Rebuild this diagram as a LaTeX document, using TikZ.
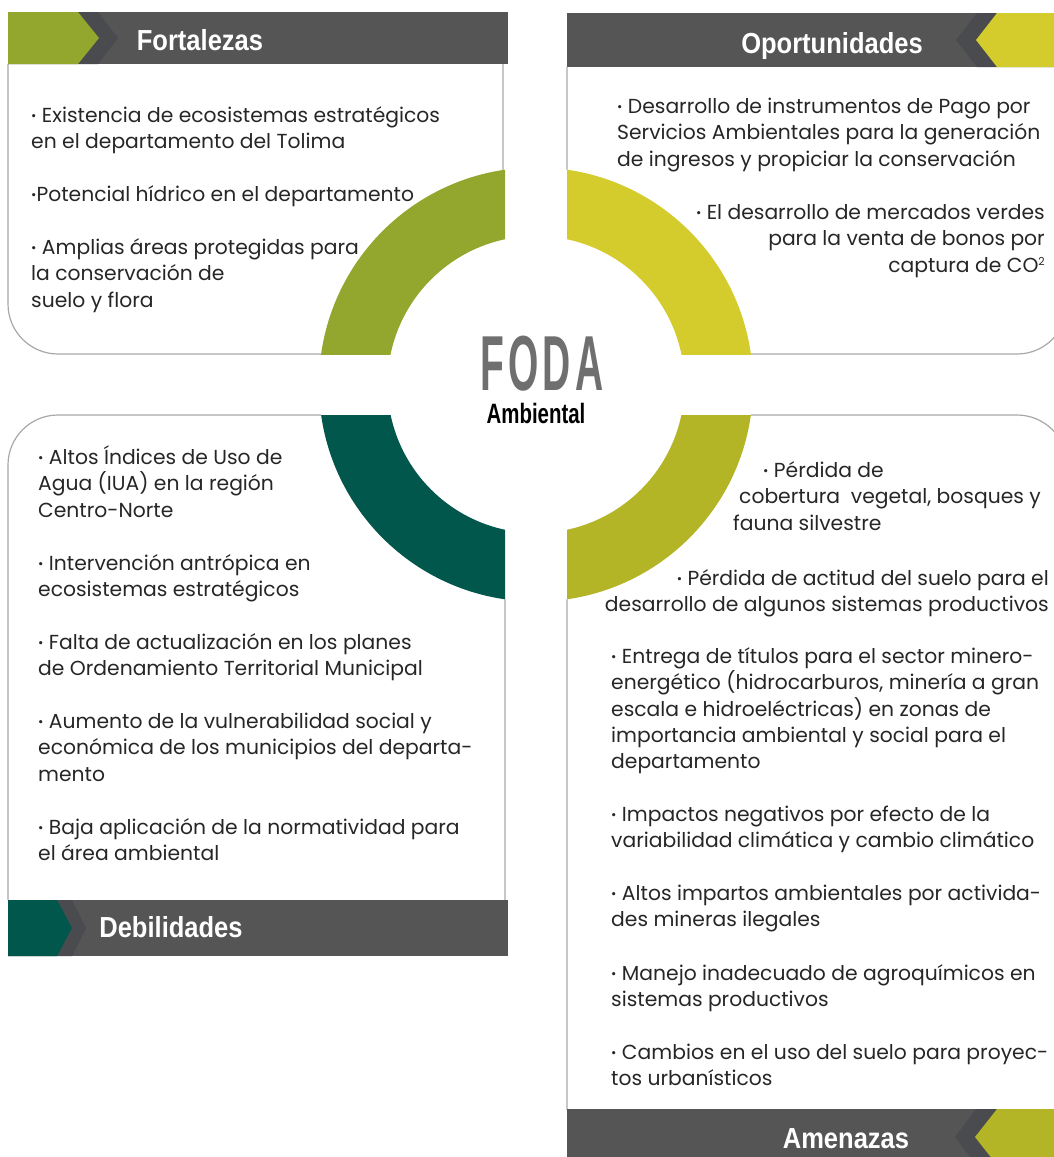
\documentclass[tikz,border=0pt]{standalone}
\usepackage{fontspec}
\setmainfont{Poppins}
\newfontfamily\hdfont[FakeStretch=0.88]{Liberation Sans}
\newfontfamily\fodafont[FakeStretch=0.5]{Liberation Sans}
\newfontfamily\ambfont[FakeStretch=0.73]{Liberation Sans}
\definecolor{hdgray}{HTML}{555555}
\definecolor{chevdark}{HTML}{4A4B4E}
\definecolor{cF}{HTML}{93A72E}
\definecolor{cO}{HTML}{D4CB2D}
\definecolor{cD}{HTML}{02574D}
\definecolor{cA}{HTML}{B3B526}
\definecolor{boxgray}{HTML}{A8A8A8}
\definecolor{txt}{HTML}{262626}
\definecolor{fodagray}{HTML}{6F6F6F}
\newcommand{\mystrut}{\rule{0pt}{20pt}}
\newcommand{\bul}{{\fontsize{13}{13}\selectfont\raisebox{2pt}{•}}}
\begin{document}
\begin{tikzpicture}[x=1pt,y=-1pt,
  boxline/.style={draw=boxgray,line width=1.2pt},
  body/.style={anchor=north west,align=left,inner sep=0pt,text=txt,font=\fontsize{20.3}{26.4}\selectfont},
  bodyr/.style={body,anchor=north east,align=right},
  title/.style={anchor=base,inner sep=0pt,text=white,font=\hdfont\bfseries\fontsize{29}{32}\selectfont}]
\useasboundingbox (0,0) rectangle (1054,1157);
\coordinate (ctr) at (536,384.5);
% box outlines
\draw[boxline] (503,64) -- (503,354) -- (58,354) .. controls (30.4,354) and (8,331.6) .. (8,304) -- (8,64);
\draw[boxline] (567,67) -- (567,354) -- (1017,354) .. controls (1044.6,354) and (1067,331.6) .. (1067,304) -- (1067,67);
\draw[boxline] (505,900) -- (505,415) -- (58,415) .. controls (30.4,415) and (8,437.4) .. (8,465) -- (8,900);
\draw[boxline] (567,1110) -- (567,415) -- (1017,415) .. controls (1044.6,415) and (1067,437.4) .. (1067,465) -- (1067,1110);
% header bars
\fill[hdgray] (8,12) rectangle (508,64);
\fill[chevdark] (8,12) -- (98,12) -- (118,38) -- (98,64) -- (8,64) -- cycle;
\fill[cF] (8,12) -- (78,12) -- (99,38) -- (78,64) -- (8,64) -- cycle;
\fill[hdgray] (567,13) rectangle (1054,67);
\fill[chevdark] (1054,13) -- (977,13) -- (956,40) -- (977,67) -- (1054,67) -- cycle;
\fill[cO] (1054,13) -- (997,13) -- (976,40) -- (997,67) -- (1054,67) -- cycle;
\fill[hdgray] (8,900) rectangle (508,956);
\fill[chevdark] (8,900) -- (72,900) -- (86,928) -- (72,956) -- (8,956) -- cycle;
\fill[cD] (8,900) -- (57,900) -- (72,928) -- (57,956) -- (8,956) -- cycle;
\fill[hdgray] (567,1109) rectangle (1054,1165);
\fill[chevdark] (1054,1109) -- (976,1109) -- (955,1137) -- (976,1165) -- (1054,1165) -- cycle;
\fill[cA] (1054,1109) -- (997,1109) -- (975,1137) -- (997,1165) -- (1054,1165) -- cycle;
% ring
\fill[white] (ctr) circle (217pt);
\begin{scope}
\clip (0,0) rectangle (505,354);
\fill[cF,even odd rule] (ctr) circle (217pt) (ctr) circle (148.5pt);
\end{scope}
\begin{scope}
\clip (567,0) rectangle (1054,354);
\fill[cO,even odd rule] (ctr) circle (217pt) (ctr) circle (148.5pt);
\end{scope}
\begin{scope}
\clip (0,415) rectangle (505,900);
\fill[cD,even odd rule] (ctr) circle (217pt) (ctr) circle (148.5pt);
\end{scope}
\begin{scope}
\clip (567,415) rectangle (1054,900);
\fill[cA,even odd rule] (ctr) circle (217pt) (ctr) circle (148.5pt);
\end{scope}
% titles
\node[title] (tF) at (200,50) {Fortalezas};
\node[title] (tO) at (832,53) {Oportunidades};
\node[title] (tD) at (171,937) {Debilidades};
\node[title] (tA) at (846,1148) {Amenazas};
\node[anchor=base,inner sep=0pt,text=fodagray,font=\fodafont\bfseries\fontsize{78}{80}\selectfont] (foda) at (542,390) {F\kern4pt O\kern4pt D\kern4pt A};
\node[anchor=base,inner sep=0pt,text=black,font=\ambfont\bfseries\fontsize{28}{30}\selectfont] (amb) at (536,423) {Ambiental};
% Fortalezas
\node[body] (f1) at (31,102) {\mystrut\bul{} Existencia de ecosistemas estratégicos\\en el departamento del Tolima};
\node[body] (f2) at (31,181) {\mystrut\bul Potencial hídrico en el departamento};
\node[body] (f3) at (31,234) {\mystrut\bul{} Amplias áreas protegidas para\\la conservación de\\suelo y flora};
% Oportunidades
\node[body] (o1) at (617,93) {\mystrut\bul{} Desarrollo de instrumentos de Pago por\\Servicios Ambientales para la generación\\de ingresos y propiciar la conservación};
\node[bodyr] (o2) at (1045,199) {\mystrut\bul{} El desarrollo de mercados verdes\\para la venta de bonos por\\captura de CO\raisebox{7pt}{\fontsize{11}{11}\selectfont 2}};
% Debilidades
\node[body] (d1) at (38,444) {\mystrut\bul{} Altos Índices de Uso de\\Agua (IUA) en la región\\Centro-Norte};
\node[body] (d2) at (38,550) {\mystrut\bul{} Intervención antrópica en\\ecosistemas estratégicos};
\node[body] (d3) at (38,629) {\mystrut\bul{} Falta de actualización en los planes\\de Ordenamiento Territorial Municipal};
\node[body] (d4) at (38,708) {\mystrut\bul{} Aumento de la vulnerabilidad social y\\económica de los municipios del departa-\\mento};
\node[body] (d5) at (38,814) {\mystrut\bul{} Baja aplicación de la normatividad para\\el área ambiental};
% Amenazas
\node[body] (a1) at (733,457) {\mystrut\hspace*{30pt}\bul{} Pérdida de\\\hspace*{6pt}cobertura\ \ vegetal, bosques y\\fauna silvestre};
\node[bodyr] (a2) at (1049,565) {\mystrut\bul{} Pérdida de actitud del suelo para el\\desarrollo de algunos sistemas productivos};
\node[body] (a3) at (611,643) {\mystrut\bul{} Entrega de títulos para el sector minero-\\energético (hidrocarburos, minería a gran\\escala e hidroeléctricas) en zonas de\\importancia ambiental y social para el\\departamento};
\node[body] (a4) at (611,801) {\mystrut\bul{} Impactos negativos por efecto de la\\variabilidad climática y cambio climático};
\node[body] (a5) at (611,880) {\mystrut\bul{} Altos impartos ambientales por activida-\\des mineras ilegales};
\node[body] (a6) at (611,960) {\mystrut\bul{} Manejo inadecuado de agroquímicos en\\sistemas productivos};
\node[body] (a7) at (611,1039) {\mystrut\bul{} Cambios en el uso del suelo para proyec-\\tos urbanísticos};
\end{tikzpicture}
\end{document}
